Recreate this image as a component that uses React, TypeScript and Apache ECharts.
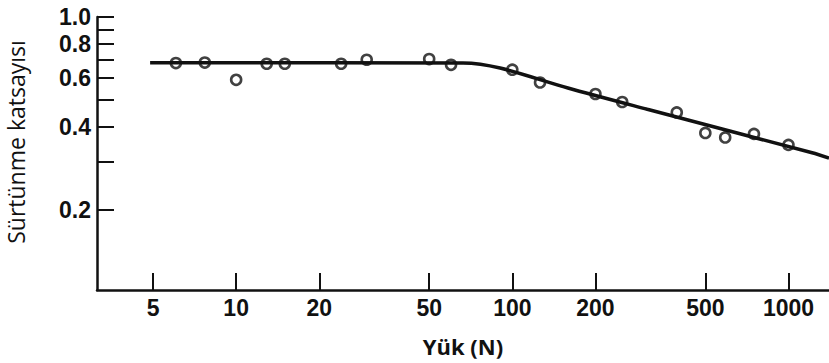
import React, { useEffect, useRef } from "react";
import * as echarts from "echarts";

// Measured points: load (N) and friction coefficient
const loads = [6.05, 7.7, 10, 12.9, 15, 24, 29.7, 50, 60, 100, 126, 200, 250, 394, 500, 590, 750, 1000];
const friction = [0.681, 0.684, 0.592, 0.677, 0.677, 0.677, 0.7, 0.704, 0.671, 0.644, 0.579, 0.526, 0.492, 0.451, 0.38, 0.366, 0.377, 0.344];

// Trend curve
const trendLoads = [4.88, 66.3, 90.3, 159, 308, 1218, 1402];
const trendFriction = [0.683, 0.681, 0.653, 0.553, 0.463, 0.322, 0.308];

// Tick values
const xTicks = [5, 10, 20, 50, 100, 200, 500, 1000];
const yTicks = [0.2, 0.3, 0.4, 0.5, 0.6, 0.7, 0.8, 0.9, 1.0];
const yLabels = [0.2, 0.4, 0.6, 0.8, 1.0];

const X_MIN = 3.134;
const X_MAX = 1402;
const Y_MIN = 0.1025;
const Y_MAX = 1.0;

const lg = (v: number) => Math.log10(v);

export default function App() {
  const ref = useRef<HTMLDivElement>(null);
  useEffect(() => {
    if (!ref.current) return;
    document.body.style.margin = "0";
    const chart = echarts.init(ref.current, null, { renderer: "svg" });
    const pts = loads.map((x, i) => [lg(x), lg(friction[i])]);
    const trend = trendLoads.map((x, i) => [lg(x), lg(trendFriction[i])]);
    const ink = "#111";
    chart.setOption({
      animation: false,
      grid: { left: 97, right: 0, top: 17, bottom: 73, containLabel: false },
      xAxis: {
        type: "value",
        min: lg(X_MIN),
        max: lg(X_MAX),
        splitLine: { show: false },
        axisLine: { show: true, onZero: false, lineStyle: { color: ink, width: 2.5 } },
        axisTick: {
          show: true,
          inside: true,
          length: 17,
          customValues: xTicks.map(lg),
          lineStyle: { color: ink, width: 2 },
        },
        axisLabel: {
          customValues: xTicks.map(lg),
          margin: 6,
          formatter: (v: number) => String(Math.round(Math.pow(10, v))),
          fontFamily: "Liberation Sans",
          fontSize: 23,
          fontWeight: "bold",
          color: ink,
        },
        name: "Yük (N)",
        nameLocation: "middle",
        nameGap: 45,
        nameTextStyle: {
          fontFamily: "Open Sans",
          fontSize: 22,
          fontWeight: "bold",
          color: "#111",
        },
      },
      yAxis: {
        type: "value",
        min: lg(Y_MIN),
        max: lg(Y_MAX),
        splitLine: { show: false },
        axisLine: { show: true, onZero: false, lineStyle: { color: ink, width: 2.5 } },
        axisTick: {
          show: true,
          inside: true,
          length: 17,
          customValues: yTicks.map(lg),
          lineStyle: { color: ink, width: 2 },
        },
        axisLabel: {
          customValues: yLabels.map(lg),
          margin: 6,
          formatter: (v: number) => Math.pow(10, v).toFixed(1),
          fontFamily: "Liberation Sans",
          fontSize: 23,
          fontWeight: "bold",
          color: ink,
        },
      },
      graphic: [
        {
          type: "text",
          x: 16,
          y: 142,
          rotation: Math.PI / 2,
          style: {
            text: "Sürtünme katsayısı",
            fontFamily: "Open Sans",
            fontSize: 23,
            fill: "#111",
            align: "center",
            verticalAlign: "middle",
          },
        },
      ],
      series: [
        {
          type: "line",
          data: trend,
          showSymbol: false,
          smooth: 0.3,
          lineStyle: { color: ink, width: 3.5 },
          silent: true,
        },
        {
          type: "scatter",
          data: pts,
          symbol: "circle",
          symbolSize: 17,
          itemStyle: { color: "#fff", borderWidth: 0 },
          silent: true,
        },
        {
          type: "scatter",
          data: pts,
          symbol: "circle",
          symbolSize: 10,
          itemStyle: { color: "#fff", borderColor: ink, borderWidth: 2.6 },
          silent: true,
        },
      ],
    });
    return () => chart.dispose();
  }, []);
  return <div ref={ref} style={{ width: 829, height: 363 }} />;
}
